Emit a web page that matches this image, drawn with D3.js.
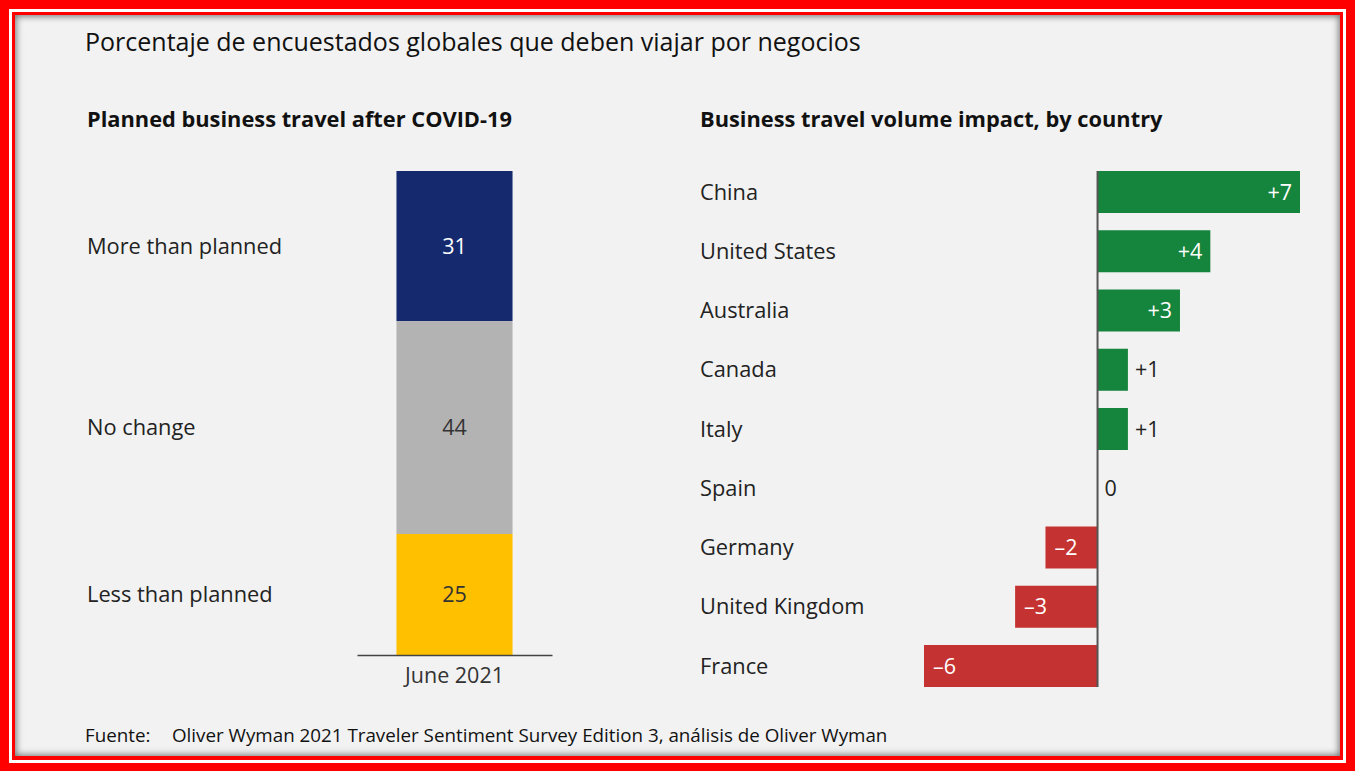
<!DOCTYPE html>
<html>
<head>
<meta charset="utf-8">
<script src="https://cdn.jsdelivr.net/npm/d3@7"></script>
<style>
  body { margin: 0; background: #ff0000; width: 1355px; height: 771px; overflow: hidden; position: relative; font-family: "Open Sans", "Noto Sans", sans-serif; }
  #ring { position: absolute; left: 9px; top: 9px; width: 1337px; height: 754px; box-sizing: border-box; border: 3px solid #fff; }
  #panel { position: absolute; left: 15px; top: 15px; width: 1325px; height: 741px; background: #f2f2f2; box-shadow: inset 0 0 7px 1px rgba(0,0,0,0.55); }
  svg { position: absolute; left: 0; top: 0; }
</style>
</head>
<body>
<div id="ring"></div>
<div id="panel"></div>
<svg id="chart" width="1355" height="771"></svg>
<script>
// left chart: stacked share
const planCats = ["More than planned", "No change", "Less than planned"];
const planValues = [31, 44, 25];
const planColors = ["#152a6e", "#b3b3b3", "#ffc000"];
const planTextColors = ["#ffffff", "#333333", "#333333"];
const planPeriod = "June 2021";

// right chart: impact by country (bar lengths, labels are rounded)
const countries = ["China", "United States", "Australia", "Canada", "Italy", "Spain", "Germany", "United Kingdom", "France"];
const impact = [7.0, 3.9, 2.85, 1.05, 1.05, 0, -1.8, -2.85, -6.0];

const svg = d3.select("#chart");
const font = "'Open Sans', 'Noto Sans', sans-serif";

// titles
svg.append("text").attr("x", 85).attr("y", 51)
  .attr("font-size", 25).attr("fill", "#111").attr("font-family", font)
  .text("Porcentaje de encuestados globales que deben viajar por negocios");

svg.append("text").attr("x", 87).attr("y", 127)
  .attr("font-size", 21.8).attr("font-weight", "bold").attr("fill", "#111").attr("font-family", font)
  .text("Planned business travel after COVID-19");

svg.append("text").attr("x", 700).attr("y", 127)
  .attr("font-size", 21.8).attr("font-weight", "bold").attr("fill", "#111").attr("font-family", font)
  .text("Business travel volume impact, by country");

// ---- stacked column ----
const y1 = d3.scaleLinear().domain([0, 100]).range([655, 171]);
const x1 = d3.scaleBand().domain([planPeriod]).range([357, 552]).paddingInner(0).paddingOuter(0.34);

let acc = 100;
const stack = planValues.map((v, i) => {
  const top = acc; acc -= v;
  return { cat: planCats[i], v, top, bot: acc, color: planColors[i], tc: planTextColors[i] };
});

const gL = svg.append("g");
gL.selectAll("rect").data(stack).enter().append("rect")
  .attr("x", x1(planPeriod)).attr("width", x1.bandwidth())
  .attr("y", d => y1(d.top)).attr("height", d => y1(d.bot) - y1(d.top))
  .attr("fill", d => d.color);

gL.selectAll("text.val").data(stack).enter().append("text")
  .attr("class", "val")
  .attr("x", x1(planPeriod) + x1.bandwidth() / 2)
  .attr("y", d => y1((d.top + d.bot) / 2))
  .attr("dy", "0.35em").attr("text-anchor", "middle")
  .attr("font-size", 21.5).attr("font-family", font).attr("fill", d => d.tc)
  .text(d => d.v);

gL.selectAll("text.cat").data(stack).enter().append("text")
  .attr("class", "cat")
  .attr("x", 87)
  .attr("y", d => y1((d.top + d.bot) / 2))
  .attr("dy", "0.35em")
  .attr("font-size", 21.8).attr("font-family", font).attr("fill", "#222")
  .text(d => d.cat);

const axL = svg.append("g").attr("transform", "translate(0,655)")
  .call(d3.axisBottom(x1).tickSize(0).tickPadding(13));
axL.select(".domain").attr("stroke", "#444").attr("stroke-width", 1.5);
axL.selectAll("text").attr("font-size", 21.5).attr("font-family", font).attr("fill", "#333");

// ---- diverging bars ----
const x2 = d3.scaleLinear().domain([-6, 7]).range([924, 1300]);
const y2 = d3.scaleBand().domain(countries).range([171, 687]).paddingInner(0.291).paddingOuter(0);

const gR = svg.append("g");
const rows = countries.map((c, i) => ({ c, v: impact[i], r: Math.round(impact[i]) }));

gR.selectAll("rect").data(rows.filter(d => d.v !== 0)).enter().append("rect")
  .attr("x", d => x2(Math.min(0, d.v)))
  .attr("width", d => Math.abs(x2(d.v) - x2(0)))
  .attr("y", d => y2(d.c)).attr("height", y2.bandwidth())
  .attr("fill", d => d.v > 0 ? "#15843c" : "#c43331");

gR.selectAll("text.cat").data(rows).enter().append("text")
  .attr("class", "cat")
  .attr("x", 700).attr("y", d => y2(d.c) + y2.bandwidth() / 2).attr("dy", "0.35em")
  .attr("font-size", 21.8).attr("font-family", font).attr("fill", "#222")
  .text(d => d.c);

const fmt = v => v > 0 ? "+" + v : v < 0 ? "\u2013" + Math.abs(v) : "0";
gR.selectAll("text.val").data(rows).enter().append("text")
  .attr("class", "val")
  .attr("y", d => y2(d.c) + y2.bandwidth() / 2).attr("dy", "0.35em")
  .attr("font-size", 21.5).attr("font-family", font)
  .each(function(d) {
    const t = d3.select(this);
    const inside = Math.abs(d.r) >= 2;
    if (d.v > 0 && inside) t.attr("x", x2(d.v) - 8).attr("text-anchor", "end").attr("fill", "#fff");
    else if (d.v < 0 && inside) t.attr("x", x2(d.v) + 9).attr("text-anchor", "start").attr("fill", "#fff");
    else t.attr("x", x2(d.v) + 7).attr("text-anchor", "start").attr("fill", "#222");
  })
  .text(d => fmt(d.r));

gR.append("line")
  .attr("x1", x2(0)).attr("x2", x2(0))
  .attr("y1", y2.range()[0]).attr("y2", y2.range()[1])
  .attr("stroke", "#555").attr("stroke-width", 2);

// source
svg.append("text").attr("x", 85).attr("y", 742)
  .attr("font-size", 18.8).attr("font-family", font).attr("fill", "#111")
  .text("Fuente:");
svg.append("text").attr("x", 172).attr("y", 742)
  .attr("font-size", 18.8).attr("font-family", font).attr("fill", "#111")
  .text("Oliver Wyman 2021 Traveler Sentiment Survey Edition 3, análisis de Oliver Wyman");
</script>
</body>
</html>
